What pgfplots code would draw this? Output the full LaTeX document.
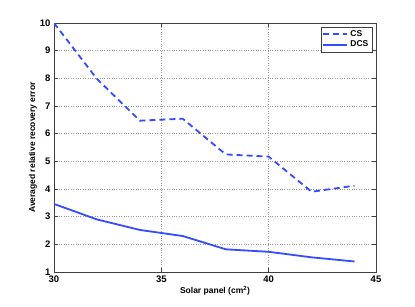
\documentclass[border=0pt]{standalone}
\usepackage{pgfplots}
\pgfplotsset{compat=1.18}
\usepackage{fontspec}
\setmainfont{Liberation Sans}
\definecolor{mblue}{rgb}{0.2,0.3,1}
\begin{document}
\begin{tikzpicture}[x=1pt,y=1pt]
\fill[white] (0,0) rectangle (415,307);
\begin{axis}[
  at={(54pt,35pt)}, anchor=south west,
  width=322pt, height=249pt, scale only axis,
  xmin=30, xmax=45, ymin=1, ymax=10,
  xtick={30,35,40,45}, ytick={1,2,...,10},
  grid=major, grid style={dotted, gray!80, line width=0.5pt},
  tick align=inside, xtick pos=both, ytick pos=both,
  major tick length=4pt,
  axis line style={gray!50!black, line width=0.8pt},
  tick style={gray!50!black, line width=0.6pt},
  font=\fontsize{8.5}{10}\selectfont\bfseries,
  tick label style={font=\fontsize{9.5}{11}\selectfont\bfseries},
  /pgf/number format/assume math mode=true,
  xlabel={Solar panel (cm\textsuperscript{2})},
  ylabel={Averaged relative recovery error},
  xlabel style={yshift=3pt},
  ylabel style={yshift=-4pt},
  legend style={at={(0.988,0.985)}, anchor=north east, draw=gray!50!black, line width=0.6pt,
    font=\fontsize{8.5}{10}\selectfont\bfseries, inner sep=1.5pt, row sep=-1pt,
    legend cell align=left},
  legend image code/.code={\draw[#1] (0pt,0pt) -- (24pt,0pt);},
]
\addplot[mblue, line width=1.8pt, dash pattern=on 6pt off 4pt] coordinates {
(30,10.0) (32,7.98) (34,6.47) (36,6.54) (38,5.25) (40,5.17) (42,3.90) (44,4.12)};
\addlegendentry{CS}
\addplot[mblue, line width=1.8pt] coordinates {
(30,3.46) (32,2.90) (34,2.52) (36,2.30) (38,1.82) (40,1.73) (42,1.53) (44,1.38)};
\addlegendentry{DCS}
\node[anchor=south west, inner sep=0pt, font=\fontsize{9}{10}\selectfont\bfseries] at (rel axis cs:0,1) [yshift=3pt] {x 10\textsuperscript{−4}};
\end{axis}
\end{tikzpicture}
\end{document}
